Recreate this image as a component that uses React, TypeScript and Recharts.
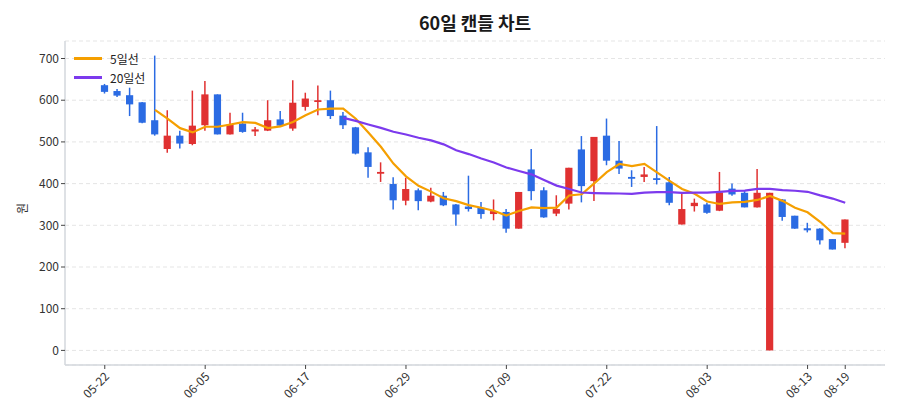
import { ComposedChart, Bar, Line, XAxis, YAxis, CartesianGrid } from 'recharts'

const DATES = [
  '05-22', '05-23', '05-24', '05-27', '05-28', '05-29', '05-31', '06-03', '06-05', '06-07',
  '06-08', '06-10', '06-11', '06-12', '06-13', '06-14', '06-17', '06-18', '06-19', '06-20',
  '06-21', '06-24', '06-25', '06-26', '06-29', '07-01', '07-02', '07-03', '07-04', '07-05',
  '07-06', '07-08', '07-09', '07-10', '07-11', '07-12', '07-15', '07-16', '07-17', '07-19',
  '07-22', '07-23', '07-24', '07-25', '07-26', '07-29', '07-30', '08-01', '08-03', '08-05',
  '08-06', '08-07', '08-08', '08-09', '08-10', '08-12', '08-13', '08-14', '08-16', '08-19',
]
const OPENS = [
  636, 622, 612, 595, 552, 483, 515, 495, 540, 614,
  518, 544, 525, 527, 554, 532, 584, 597, 600, 563,
  535, 475, 424, 399, 359, 384, 357, 371, 350, 345,
  342, 327, 332, 292, 434, 384, 328, 352, 482, 406,
  515, 455, 416, 416, 413, 403, 302, 346, 350, 335,
  388, 378, 343, 0, 362, 323, 293, 292, 267, 258,
]
const HIGHS = [
  639, 627, 630, 596, 707, 576, 527, 623, 646, 614,
  570, 570, 536, 600, 574, 648, 618, 635, 623, 572,
  536, 487, 451, 415, 414, 388, 390, 380, 351, 419,
  356, 362, 339, 380, 483, 391, 372, 438, 514, 512,
  556, 502, 432, 440, 538, 416, 376, 364, 354, 428,
  400, 382, 435, 378, 363, 323, 306, 293, 267, 314,
]
const LOWS = [
  616, 608, 562, 545, 515, 474, 484, 492, 527, 518,
  518, 522, 514, 526, 536, 527, 575, 564, 555, 531,
  470, 414, 404, 338, 348, 336, 355, 346, 299, 333,
  316, 312, 282, 292, 360, 318, 322, 338, 355, 358,
  444, 423, 392, 404, 398, 348, 302, 333, 328, 334,
  371, 343, 343, 0, 311, 292, 283, 254, 242, 245,
]
const CLOSES = [
  620, 611, 590, 546, 518, 515, 496, 539, 614, 518,
  542, 524, 530, 552, 539, 594, 604, 600, 562, 540,
  472, 440, 428, 360, 387, 358, 371, 348, 326, 339,
  327, 334, 292, 380, 382, 319, 339, 438, 394, 512,
  455, 436, 412, 422, 409, 354, 339, 354, 330, 379,
  374, 343, 378, 378, 320, 292, 288, 264, 242, 314,
]
const MA5 = [
  null, null, null, null, 577, 556, 533, 522.8, 536.4, 536.4,
  541.8, 547.4, 545.6, 533.2, 537.4, 547.8, 563.8, 577.8, 579.8, 580,
  555.6, 522.8, 488.4, 448, 417.4, 394.6, 380.8, 364.8, 358, 348.4,
  342.2, 334.8, 323.6, 334.4, 343, 341.4, 342.4, 371.6, 374.4, 400.4,
  427.6, 447, 441.8, 447.4, 426.8, 406.6, 387.2, 375.6, 357.2, 351.2,
  355.2, 356, 360.8, 370.4, 358.6, 342.2, 331.2, 308.4, 281.2, 280,
]
const MA20 = [
  null, null, null, null, null, null, null, null, null, null,
  null, null, null, null, null, null, null, null, null, 557.7,
  550.3, 541.8, 533.7, 524.4, 517.8, 510, 503.7, 494.2, 479.8, 470.8,
  460.1, 450.6, 438.7, 430.1, 422.2, 408.5, 395.2, 387.1, 378.7, 377.3,
  376.5, 376.3, 375.5, 378.6, 379.7, 379.5, 377.9, 378.2, 378.4, 380.4,
  382.7, 383.2, 387.5, 387.4, 384.3, 382.9, 380.4, 371.7, 364.1, 354.2,
]
const TICK_DATES = ['05-22', '06-05', '06-17', '06-29', '07-09', '07-22', '08-03', '08-13', '08-19']
const Y_TICKS = [0, 100, 200, 300, 400, 500, 600, 700]

const UP = '#e03131'
const DOWN = '#2b6be3'
const MA5_COLOR = '#f59f00'
const MA20_COLOR = '#7c3aed'
const FONT = "'Noto Sans CJK KR', 'Noto Sans', sans-serif"

const rows = DATES.map((date, i) => ({
  date,
  open: OPENS[i],
  high: HIGHS[i],
  low: LOWS[i],
  close: CLOSES[i],
  range: [LOWS[i], HIGHS[i]],
  ma5: MA5[i],
  ma20: MA20[i],
}))

// body + wick drawn inside the low-high range bar
function Candle(props: any) {
  const { x, y, width, height, payload } = props
  if (!payload) return null
  const { open, high, low, close } = payload
  const top = Math.min(y, y + height)
  const h = Math.abs(height)
  const ppu = high === low ? 0 : h / (high - low)
  const cx = x + width / 2
  const color = close >= open ? UP : DOWN
  const bodyTop = top + (high - Math.max(open, close)) * ppu
  const bodyH = Math.max(Math.abs(open - close) * ppu, 1.8)
  return (
    <g>
      <line x1={cx} x2={cx} y1={top} y2={top + h} stroke={color} strokeWidth={1.5} />
      <rect x={cx - 3.6} y={bodyTop} width={7.2} height={bodyH} fill={color} />
    </g>
  )
}

function DateTick({ x, y, payload }: any) {
  return (
    <text
      x={x + 3}
      y={y + 4}
      transform={`rotate(-45 ${x + 3} ${y + 4})`}
      textAnchor="end"
      dominantBaseline="middle"
      fontSize={12}
      fill="#333"
      fontFamily={FONT}
    >
      {payload.value}
    </text>
  )
}

export default function App() {
  return (
    <div style={{ position: 'absolute', left: 0, top: 0, width: 900, height: 420, background: '#fff', fontFamily: FONT }}>
      <div
        style={{
          position: 'absolute',
          left: 65,
          width: 820,
          top: 8,
          textAlign: 'center',
          fontSize: 18,
          fontWeight: 700,
          lineHeight: '28px',
          color: '#1a1a1a',
        }}
      >
        60일 캔들 차트
      </div>

      <ComposedChart width={900} height={420} data={rows} margin={{ top: 41, right: 15, bottom: 5, left: 25 }}>
        <CartesianGrid vertical={false} stroke="#e5e5e5" strokeDasharray="4 3" />
        <XAxis
          dataKey="date"
          type="category"
          ticks={TICK_DATES}
          interval={0}
          padding={{ left: 33.5, right: 33.5 }}
          height={50}
          axisLine={{ stroke: '#d3d7dc', strokeWidth: 1.5 }}
          tickLine={{ stroke: '#444' }}
          tickSize={4}
          tick={<DateTick />}
        />
        <YAxis
          domain={[-35, 742]}
          ticks={Y_TICKS}
          width={40}
          axisLine={{ stroke: '#d3d7dc', strokeWidth: 1.5 }}
          tickLine={{ stroke: '#444' }}
          tickSize={4}
          tick={{ fontSize: 12, fill: '#333', fontFamily: FONT }}
          label={{ value: '원', angle: -90, position: 'left', offset: 2, fontSize: 12, fill: '#333', fontFamily: FONT }}
        />
        <Bar dataKey="range" barSize={8} shape={<Candle />} isAnimationActive={false} />
        <Line
          type="linear"
          dataKey="ma5"
          stroke={MA5_COLOR}
          strokeWidth={2.2}
          dot={false}
          activeDot={false}
          connectNulls={false}
          isAnimationActive={false}
        />
        <Line
          type="linear"
          dataKey="ma20"
          stroke={MA20_COLOR}
          strokeWidth={2.2}
          dot={false}
          activeDot={false}
          connectNulls={false}
          isAnimationActive={false}
        />
      </ComposedChart>

      <div
        style={{
          position: 'absolute',
          left: 70,
          top: 47,
          padding: '2px 4px',
          fontSize: 12,
          color: '#222',
          lineHeight: '19px',
          pointerEvents: 'none',
        }}
      >
        <div style={{ display: 'flex', alignItems: 'center' }}>
          <span style={{ display: 'inline-block', width: 28, height: 2.2, background: MA5_COLOR, marginRight: 8 }} />
          5일선
        </div>
        <div style={{ display: 'flex', alignItems: 'center' }}>
          <span style={{ display: 'inline-block', width: 28, height: 2.2, background: MA20_COLOR, marginRight: 8 }} />
          20일선
        </div>
      </div>
    </div>
  )
}
